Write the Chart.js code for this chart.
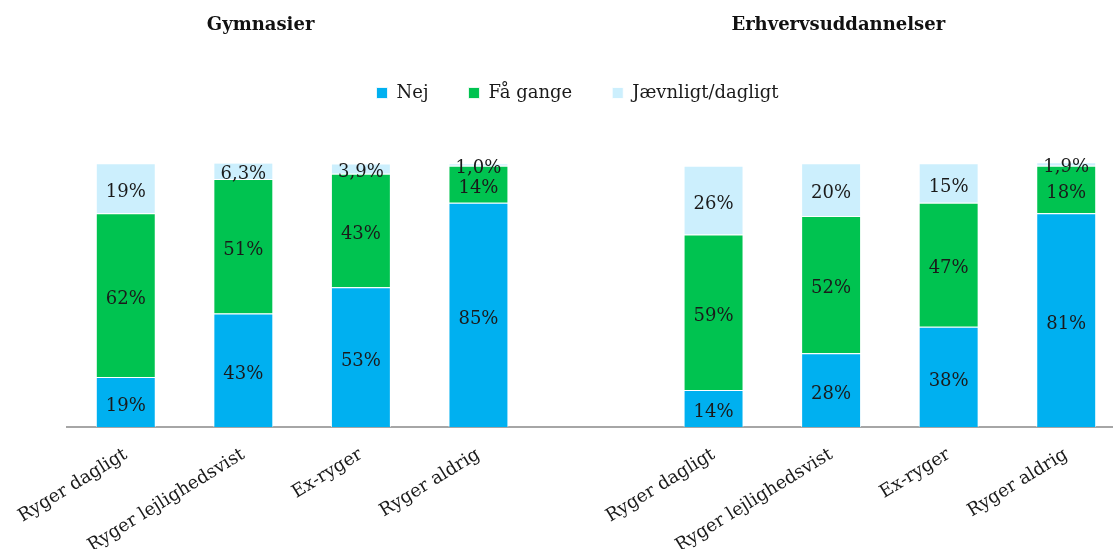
<!DOCTYPE html>
<html>
<head>
<meta charset="utf-8">
<script src="https://cdn.jsdelivr.net/npm/chart.js@4"></script>
<style>
  html, body { margin: 0; padding: 0; background: #fff; overflow: hidden; }
  #wrap { width: 1125px; height: 549px; }
</style>
</head>
<body>
<div id="wrap"><canvas id="smokeChart"></canvas></div>
<script>
/// === DATA === ///
const categories = ['Ryger dagligt', 'Ryger lejlighedsvist', 'Ex-ryger', 'Ryger aldrig', '',
  'Ryger dagligt', 'Ryger lejlighedsvist', 'Ex-ryger', 'Ryger aldrig'];
const groupTitles = ['Gymnasier', 'Erhvervsuddannelser'];
const seriesNames = ['Nej', 'Få gange', 'Jævnligt/dagligt'];
const nejValues = [19, 43, 53, 85, null, 14, 28, 38, 81];
const faaGangeValues = [62, 51, 43, 14, null, 59, 52, 47, 18];
const jaevnligtValues = [19, 6.3, 3.9, 1.0, null, 26, 20, 15, 1.9];
const seriesColors = ['#00B0F0', '#00C350', '#CCEFFD'];

const serif = "'DejaVu Serif', serif";

// format like the original: one decimal under 10, danish comma
const formatPct = v => v < 10 ? v.toFixed(1).replace('.', ',') + '%' : Math.round(v) + '%';

// value labels in the middle of every segment
const segmentLabels = {
  id: 'segmentLabels',
  afterDatasetsDraw(chart) {
    const ctx = chart.ctx;
    ctx.save();
    ctx.font = '18px ' + serif;
    ctx.fillStyle = '#1a1a1a';
    ctx.textAlign = 'center';
    ctx.textBaseline = 'middle';
    chart.data.datasets.forEach((ds, i) => {
      chart.getDatasetMeta(i).data.forEach((bar, j) => {
        const v = ds.data[j];
        if (v === null) return;
        ctx.fillText(formatPct(v), bar.x, (bar.y + bar.base) / 2 + 4);
      });
    });
    ctx.restore();
  }
};

// the two group headings above the legend
const groupHeadings = {
  id: 'groupHeadings',
  afterDraw(chart) {
    const ctx = chart.ctx;
    const area = chart.chartArea;
    const spots = [0.183, 0.729];
    ctx.save();
    ctx.font = 'bold 18px ' + serif;
    ctx.fillStyle = '#111';
    ctx.textAlign = 'center';
    ctx.textBaseline = 'middle';
    groupTitles.forEach((t, i) => {
      ctx.fillText(t, area.left + area.width * spots[i], 25);
    });
    ctx.restore();
  }
};

new Chart(
  document.getElementById('smokeChart'),
  {
    type: 'bar',
    data: {
      labels: categories,
      datasets: [
        { label: seriesNames[0], data: nejValues, backgroundColor: seriesColors[0] },
        { label: seriesNames[1], data: faaGangeValues, backgroundColor: seriesColors[1] },
        { label: seriesNames[2], data: jaevnligtValues, backgroundColor: seriesColors[2] }
      ]
    },
    options: {
      responsive: true,
      maintainAspectRatio: false,
      animation: false,
      categoryPercentage: 1,
      barPercentage: 0.51,
      borderWidth: 1,
      borderColor: 'rgba(255,255,255,0.8)',
      layout: { padding: { left: 30, right: 0, top: 44, bottom: 0 } },
      plugins: {
        tooltip: { enabled: false },
        legend: {
          position: 'top',
          labels: {
            boxWidth: 11,
            boxHeight: 11,
            padding: 40,
            color: '#1a1a1a',
            font: { family: serif, size: 18 }
          }
        },
        // empty spacer between legend and bars
        subtitle: {
          display: true,
          text: '',
          weight: 500,
          font: { size: 1 },
          padding: { top: 0, bottom: 50 }
        }
      },
      scales: {
        x: {
          stacked: true,
          grid: { display: false },
          border: { display: true, color: '#A6A6A6', width: 2 },
          ticks: {
            minRotation: 31.5,
            maxRotation: 31.5,
            autoSkip: false,
            padding: 9,
            color: '#1a1a1a',
            font: { family: serif, size: 18 }
          },
          afterFit: s => { s.height = 122; }
        },
        y: {
          stacked: true,
          min: 0,
          max: 100,
          grid: { display: false },
          border: { display: false },
          ticks: { display: false },
          afterFit: s => { s.width = 37; }
        }
      }
    },
    plugins: [segmentLabels, groupHeadings]
  }
);
</script>
</body>
</html>
